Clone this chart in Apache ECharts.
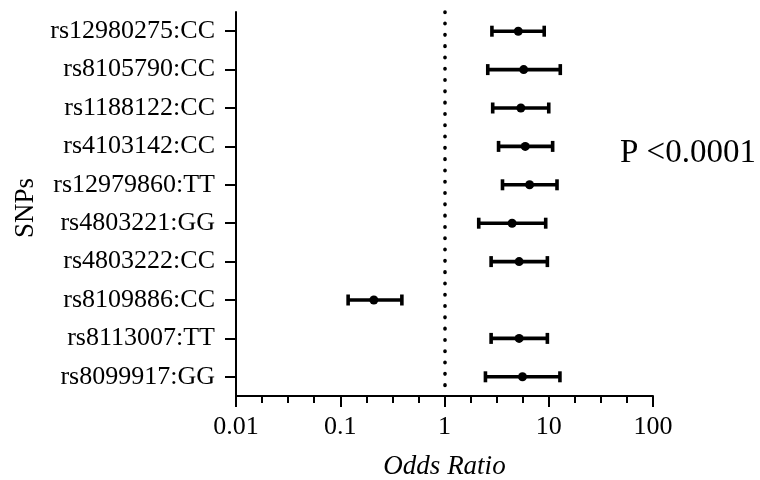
<!DOCTYPE html>
<html>
<head>
<meta charset="utf-8">
<script src="https://cdn.jsdelivr.net/npm/echarts@6/dist/echarts.min.js"></script>
<style>
  html, body { margin: 0; padding: 0; background: #fff; }
  #chart { width: 760px; height: 480px; }
</style>
</head>
<body>
<div id="chart"></div>
<script>
// SNP genotypes, listed top to bottom
const snps = [
  'rs12980275:CC', 'rs8105790:CC', 'rs1188122:CC', 'rs4103142:CC', 'rs12979860:TT',
  'rs4803221:GG', 'rs4803222:CC', 'rs8109886:CC', 'rs8113007:TT', 'rs8099917:GG'
];
// odds ratio with 95% confidence interval
const oddsRatio = [5.1, 5.75, 5.4, 5.95, 6.55, 4.45, 5.2, 0.21, 5.2, 5.6];
const ciLower   = [2.85, 2.6, 2.9, 3.3, 3.6, 2.13, 2.8, 0.119, 2.8, 2.47];
const ciUpper   = [9.05, 12.9, 10.0, 10.9, 12.0, 9.35, 9.7, 0.39, 9.7, 12.8];
const xTickLabels = ['0.01', '0.1', '1', '10', '100'];
const pValueText = 'P <0.0001';

const serif = "'Liberation Serif', 'Times New Roman', 'DejaVu Serif', serif";

// the x axis runs in log10 units so that minor ticks split each decade evenly
const lg = Math.log10;
const rows = snps.map((s, i) => [i, lg(ciLower[i]), lg(oddsRatio[i]), lg(ciUpper[i])]);

function renderForest(params, api) {
  const idx = api.value(0);
  const lo = api.coord([api.value(1), idx]);
  const mid = api.coord([api.value(2), idx]);
  const hi = api.coord([api.value(3), idx]);
  const capH = 5.5;
  const style = { stroke: '#000', lineWidth: 3.6 };
  return {
    type: 'group',
    children: [
      { type: 'line', shape: { x1: lo[0], y1: lo[1], x2: hi[0], y2: hi[1] }, style },
      { type: 'line', shape: { x1: lo[0], y1: lo[1] - capH, x2: lo[0], y2: lo[1] + capH }, style },
      { type: 'line', shape: { x1: hi[0], y1: hi[1] - capH, x2: hi[0], y2: hi[1] + capH }, style },
      { type: 'circle', shape: { cx: mid[0], cy: mid[1], r: 4.5 }, style: { fill: '#000' } }
    ]
  };
}

const chart = echarts.init(document.getElementById('chart'), null, { renderer: 'canvas' });
chart.setOption({
  animation: false,
  backgroundColor: '#fff',
  grid: { left: 236, right: 107, top: 12, bottom: 84, containLabel: false, outerBoundsMode: 'none' },
  xAxis: {
    type: 'value',
    min: -2,
    max: 2,
    interval: 1,
    name: 'Odds Ratio',
    nameLocation: 'middle',
    nameGap: 57,
    nameTextStyle: { fontFamily: serif, fontSize: 27, fontStyle: 'italic', color: '#000' },
    axisLine: { show: true, onZero: false, lineStyle: { color: '#000', width: 2 } },
    axisTick: { show: true, length: 11, lineStyle: { color: '#000', width: 2 } },
    minorTick: { show: true, splitNumber: 4, length: 7, lineStyle: { color: '#000', width: 2 } },
    splitLine: { show: false },
    minorSplitLine: { show: false },
    axisLabel: {
      margin: 18,
      fontFamily: serif,
      fontSize: 26,
      color: '#000',
      formatter: function (v) {
        const k = Math.round(v) + 2;
        return xTickLabels[k] !== undefined ? xTickLabels[k] : '';
      }
    }
  },
  yAxis: {
    type: 'category',
    data: snps,
    inverse: true,
    name: 'SNPs',
    nameLocation: 'middle',
    nameGap: 192,
    nameRotate: 90,
    nameTextStyle: { fontFamily: serif, fontSize: 27, color: '#000', padding: [0, 8, 0, 0] },
    axisLine: { show: true, onZero: false, lineStyle: { color: '#000', width: 2 } },
    axisTick: { show: true, alignWithLabel: true, length: 11, lineStyle: { color: '#000', width: 2 } },
    splitLine: { show: false },
    axisLabel: { margin: 21, fontFamily: serif, fontSize: 26, color: '#000' }
  },
  graphic: [{
    type: 'text',
    left: 620,
    top: 137,
    style: { text: pValueText, font: '33px ' + serif, fill: '#000' }
  }],
  series: [{
    type: 'custom',
    renderItem: renderForest,
    encode: { x: [1, 2, 3], y: 0 },
    data: rows,
    clip: false,
    markLine: {
      silent: true,
      symbol: ['none', 'none'],
      label: { show: false },
      lineStyle: { color: '#000', width: 3.6, type: [0.5, 10.8], cap: 'round' },
      data: [{ xAxis: 0 }]
    }
  }]
});
</script>
</body>
</html>
